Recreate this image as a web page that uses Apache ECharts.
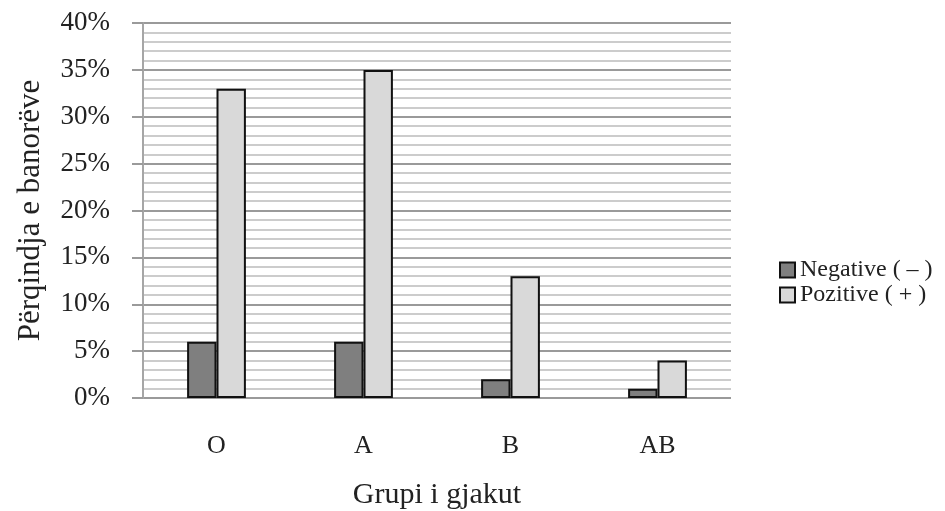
<!DOCTYPE html>
<html><head><meta charset="utf-8">
<script src="https://cdn.jsdelivr.net/npm/echarts@6/dist/echarts.min.js"></script>
<style>html,body{margin:0;padding:0;background:#fff}#c{width:945px;height:511px}</style>
</head><body><div id="c"></div>
<script>
const categories = ['O', 'A', 'B', 'AB'];
const negative = [6, 6, 2, 1];
const positive = [33, 35, 13, 4];
const seriesNames = ['Negative ( – )', 'Pozitive ( + )'];
const yTicks = [0, 5, 10, 15, 20, 25, 30, 35, 40];

const FONT = '"Liberation Serif", "DejaVu Serif", serif';
const chart = echarts.init(document.getElementById('c'), null, {renderer: 'canvas'});
chart.setOption({
  animation: false,
  backgroundColor: '#fff',
  grid: {left: 143, right: 214, top: 23, bottom: 113, containLabel: false, outerBoundsMode: 'none'},
  legend: {
    orient: 'vertical', left: 774, top: 253, itemGap: 1,
    itemWidth: 15, itemHeight: 15, icon: 'rect',
    textStyle: {fontFamily: FONT, fontSize: 24, color: '#222', lineHeight: 24},
    data: seriesNames
  },
  xAxis: {
    type: 'category', data: categories,
    axisLine: {show: false},
    axisTick: {show: false},
    axisLabel: {fontFamily: FONT, fontSize: 26, color: '#222', margin: 35},
    name: 'Grupi i gjakut', nameLocation: 'middle', nameGap: 82,
    nameTextStyle: {fontFamily: FONT, fontSize: 30, color: '#222'}
  },
  yAxis: {
    type: 'value', min: yTicks[0], max: yTicks[yTicks.length-1], interval: 5,
    axisLine: {show: true, lineStyle: {color: '#a6a6a6', width: 2}},
    axisTick: {show: true, length: 11, lineStyle: {color: '#9a9a9a', width: 2}},
    axisLabel: {fontFamily: FONT, fontSize: 27, color: '#222', margin: 33, formatter: '{value}%'},
    splitLine: {show: true, lineStyle: {color: '#9a9a9a', width: 2}},
    minorTick: {show: false, splitNumber: 5},
    minorSplitLine: {show: true, lineStyle: {color: '#cccccc', width: 2}},
    name: 'Përqindja e banorëve', nameLocation: 'middle', nameGap: 97, nameRotate: 90,
    nameTextStyle: {fontFamily: FONT, fontSize: 31, color: '#222'}
  },
  series: [
    {name: seriesNames[0], type: 'bar', data: negative, barGap: '0%', barCategoryGap: '60%',
     itemStyle: {color: '#7f7f7f', borderColor: '#111', borderWidth: 2}},
    {name: seriesNames[1], type: 'bar', data: positive, barGap: '0%', barCategoryGap: '60%',
     itemStyle: {color: '#d9d9d9', borderColor: '#111', borderWidth: 2}}
  ]
});
</script></body></html>
